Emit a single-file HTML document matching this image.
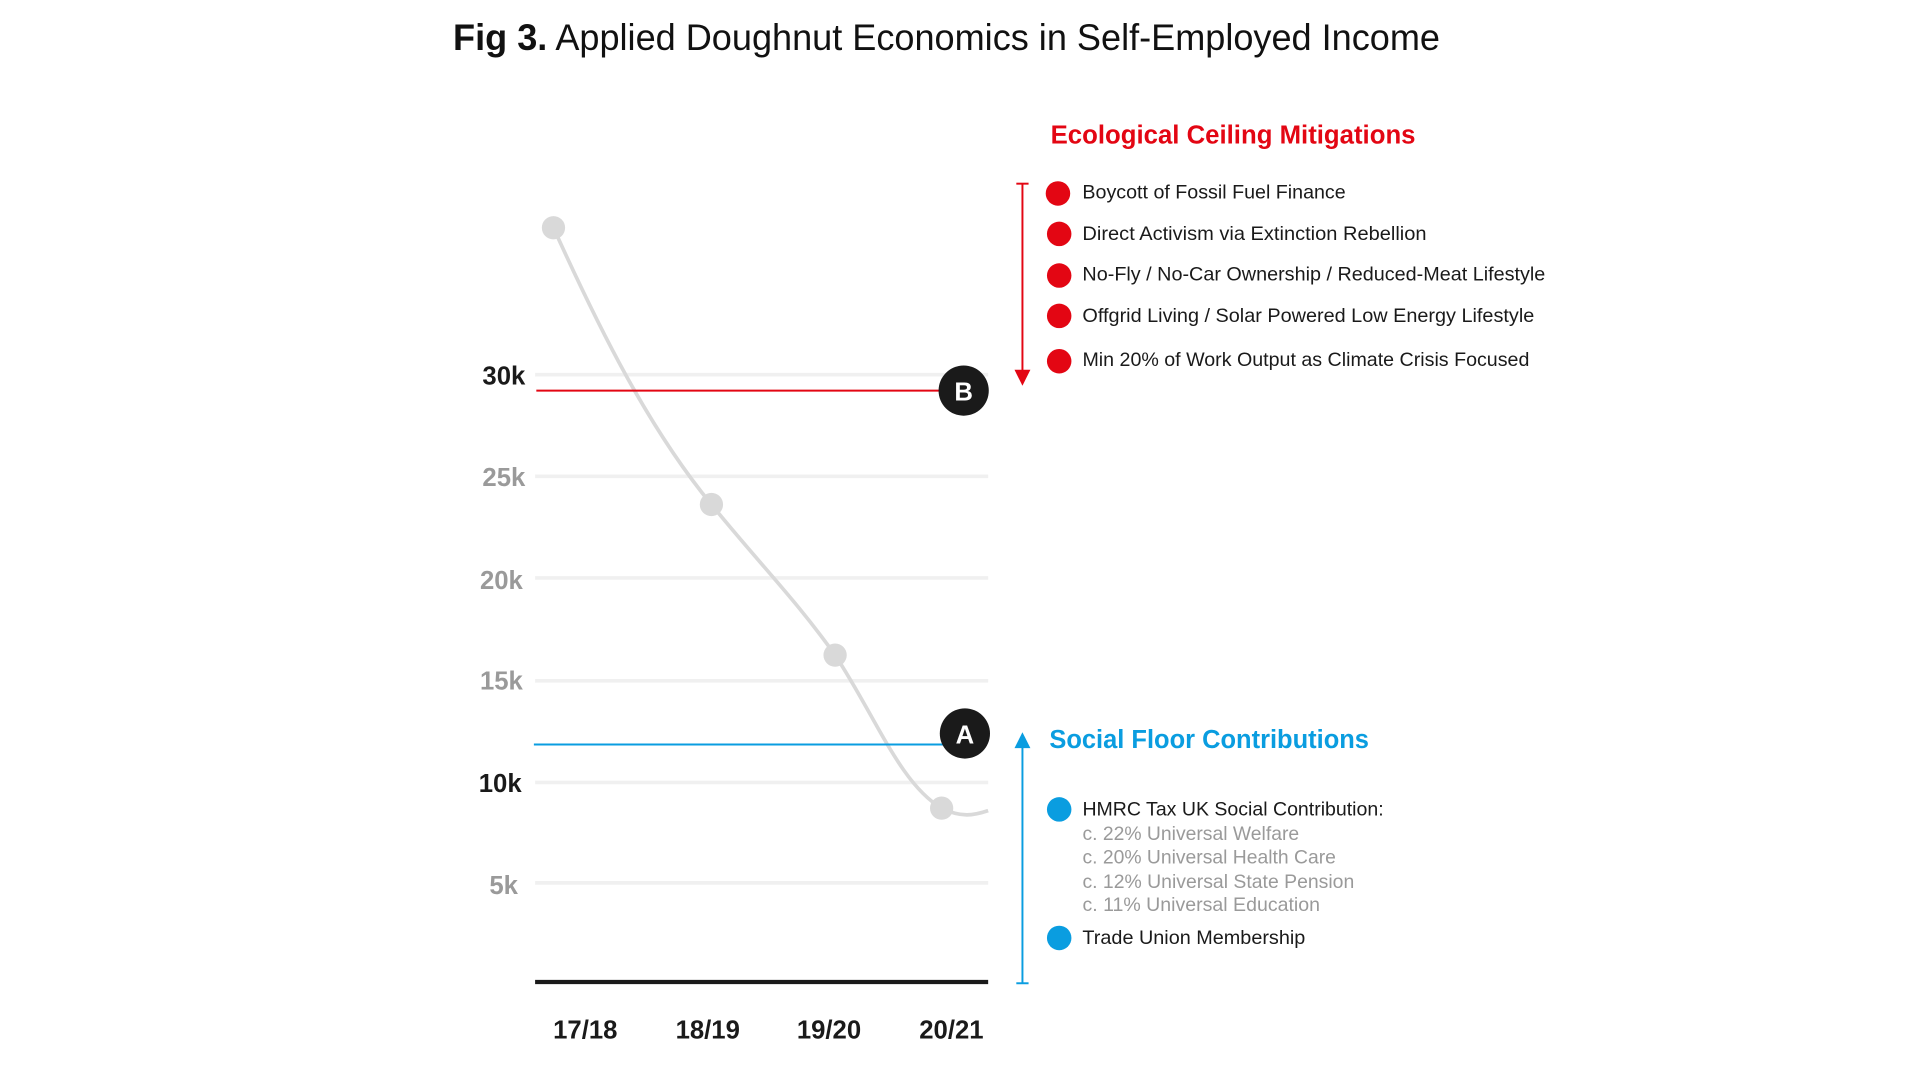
<!DOCTYPE html>
<html><head><meta charset="utf-8"><style>
html,body{margin:0;padding:0;background:#fff;}
svg{display:block;}
text{font-family:"Liberation Sans",sans-serif;}
</style></head><body>
<svg width="1920" height="1080" viewBox="0 0 1568 882" xmlns="http://www.w3.org/2000/svg">
<rect width="1568" height="882" fill="#fff"/>
<text x="370" y="41" font-size="30" fill="#111" textLength="806" lengthAdjust="spacingAndGlyphs"><tspan font-weight="bold">Fig 3.</tspan> Applied Doughnut Economics in Self-Employed Income</text>

<g stroke="#f0f0f0" stroke-width="3">
<line x1="437" y1="306" x2="807" y2="306"/>
<line x1="437" y1="389" x2="807" y2="389"/>
<line x1="437" y1="472" x2="807" y2="472"/>
<line x1="437" y1="556" x2="807" y2="556"/>
<line x1="437" y1="639" x2="807" y2="639"/>
<line x1="437" y1="721" x2="807" y2="721"/>
</g>
<g font-size="21" font-weight="bold" text-anchor="end">
<text x="429" y="314" fill="#1a1a1a">30k</text>
<text x="429" y="397" fill="#9a9a9a">25k</text>
<text x="427" y="481" fill="#9a9a9a">20k</text>
<text x="427" y="563" fill="#9a9a9a">15k</text>
<text x="426" y="647" fill="#1a1a1a">10k</text>
<text x="423" y="730" fill="#9a9a9a">5k</text>
</g>
<line x1="437" y1="802" x2="807" y2="802" stroke="#1a1a1a" stroke-width="3.5"/>
<g font-size="21" font-weight="bold" text-anchor="middle" fill="#1a1a1a">
<text x="478" y="848">17/18</text>
<text x="578" y="848">18/19</text>
<text x="677" y="848">19/20</text>
<text x="777" y="848">20/21</text>
</g>

<path d="M452,186 C490,270 530,350 581,412 C620,460 650,490 682,535 C715,585 735,640 769,660 C785,668 795,666 807,662" fill="none" stroke="#d9d9d9" stroke-width="3"/>
<g fill="#d9d9d9">
<circle cx="452" cy="186" r="9.5"/>
<circle cx="581" cy="412" r="9.5"/>
<circle cx="682" cy="535" r="9.5"/>
<circle cx="769" cy="660" r="9.5"/>
</g>

<line x1="438" y1="319" x2="787" y2="319" stroke="#e30613" stroke-width="1.6"/>
<circle cx="787" cy="319" r="20.5" fill="#1a1a1a"/>
<text x="787" y="327" font-size="21" font-weight="bold" fill="#fff" text-anchor="middle">B</text>
<line x1="436" y1="608" x2="788" y2="608" stroke="#0a9de0" stroke-width="1.6"/>
<circle cx="788" cy="599" r="20.5" fill="#1a1a1a"/>
<text x="788" y="607" font-size="21" font-weight="bold" fill="#fff" text-anchor="middle">A</text>

<g stroke="#e30613" stroke-width="1.6">
<line x1="835" y1="150" x2="835" y2="305"/>
<line x1="830" y1="150" x2="840" y2="150"/>
</g>
<polygon points="828.5,302 841.5,302 835,315" fill="#e30613"/>
<g stroke="#0a9de0" stroke-width="1.6">
<line x1="835" y1="610" x2="835" y2="803"/>
<line x1="830" y1="803" x2="840" y2="803"/>
</g>
<polygon points="828.5,611 841.5,611 835,598" fill="#0a9de0"/>

<text x="858" y="117" font-size="21" font-weight="bold" fill="#e30613" textLength="298" lengthAdjust="spacingAndGlyphs">Ecological Ceiling Mitigations</text>
<g fill="#e30613">
<circle cx="864" cy="158" r="10"/>
<circle cx="865" cy="191" r="10"/>
<circle cx="865" cy="225" r="10"/>
<circle cx="865" cy="258" r="10"/>
<circle cx="865" cy="295" r="10"/>
</g>
<g font-size="16" fill="#1a1a1a">
<text x="884" y="162" textLength="215" lengthAdjust="spacingAndGlyphs">Boycott of Fossil Fuel Finance</text>
<text x="884" y="196" textLength="281" lengthAdjust="spacingAndGlyphs">Direct Activism via Extinction Rebellion</text>
<text x="884" y="229" textLength="378" lengthAdjust="spacingAndGlyphs">No-Fly / No-Car Ownership / Reduced-Meat Lifestyle</text>
<text x="884" y="263" textLength="369" lengthAdjust="spacingAndGlyphs">Offgrid Living / Solar Powered Low Energy Lifestyle</text>
<text x="884" y="299" textLength="365" lengthAdjust="spacingAndGlyphs">Min 20% of Work Output as Climate Crisis Focused</text>
</g>

<text x="857" y="611" font-size="21" font-weight="bold" fill="#0a9de0" textLength="261" lengthAdjust="spacingAndGlyphs">Social Floor Contributions</text>
<g fill="#0a9de0">
<circle cx="865" cy="661" r="10"/>
<circle cx="865" cy="766" r="10"/>
</g>
<text x="884" y="666" font-size="16" fill="#1a1a1a" textLength="246" lengthAdjust="spacingAndGlyphs">HMRC Tax UK Social Contribution:</text>
<g font-size="16" fill="#9a9a9a">
<text x="884" y="686" textLength="177" lengthAdjust="spacingAndGlyphs">c. 22% Universal Welfare</text>
<text x="884" y="705" textLength="207" lengthAdjust="spacingAndGlyphs">c. 20% Universal Health Care</text>
<text x="884" y="725" textLength="222" lengthAdjust="spacingAndGlyphs">c. 12% Universal State Pension</text>
<text x="884" y="744" textLength="194" lengthAdjust="spacingAndGlyphs">c. 11% Universal Education</text>
</g>
<text x="884" y="771" font-size="16" fill="#1a1a1a" textLength="182" lengthAdjust="spacingAndGlyphs">Trade Union Membership</text>
</svg>
</body></html>
